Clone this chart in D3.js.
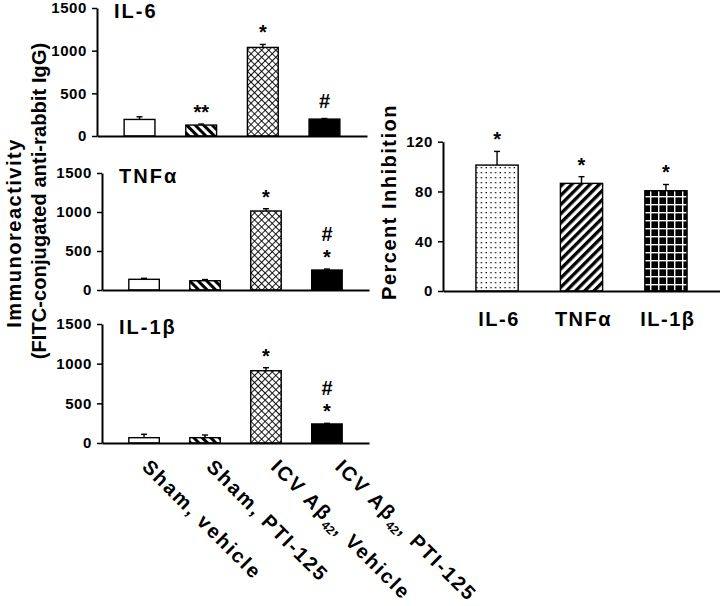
<!DOCTYPE html>
<html><head><meta charset="utf-8">
<script src="https://cdn.jsdelivr.net/npm/d3@7"></script>
<style>
body{margin:0;background:#fff;}
svg{display:block;}
text{font-family:"Liberation Sans",Arial,sans-serif;font-weight:bold;fill:#000;}
</style></head><body>
<svg id="chart" width="720" height="606"></svg>
<script>
// ---- data ----
const groups = ["Sham, vehicle", "Sham, PTI-125", "ICV Aβ42, Vehicle", "ICV Aβ42, PTI-125"];
const cytokines = ["IL-6", "TNFα", "IL-1β"];
const il6Values = [194, 128, 1038, 198];
const il6Errors = [31, 12, 35, 7];
const il6Marks = [[], ["**"], ["*"], ["#"]];
const tnfValues = [137, 119, 1013, 256];
const tnfErrors = [13, 15, 29, 13];
const tnfMarks = [[], [], ["*"], ["#", "*"]];
const il1bValues = [67, 67, 911, 240];
const il1bErrors = [43, 34, 38, 8];
const il1bMarks = [[], [], ["*"], ["#", "*"]];
const inhibitionValues = [101.2, 86.5, 80.6];
const inhibitionErrors = [11, 5.4, 5];
const inhibitionMarks = [["*"], ["*"], ["*"]];
const leftTicks = [0, 500, 1000, 1500];
const rightTicks = [0, 40, 80, 120];
const leftTitleLines = ["Immunoreactivity", "(FITC-conjugated anti-rabbit IgG)"];
const rightTitle = "Percent Inhibition";

const svg = d3.select("#chart");
const defs = svg.append("defs");

// patterns
function stripes(id, angle, size, w) {
  const p = defs.append("pattern").attr("id", id).attr("patternUnits", "userSpaceOnUse")
    .attr("width", size).attr("height", size).attr("patternTransform", `rotate(${angle})`);
  p.append("rect").attr("width", size).attr("height", size).attr("fill", "#fff");
  p.append("rect").attr("width", w).attr("height", size).attr("fill", "#000");
}
stripes("stripeBack", -45, 6, 3);
stripes("stripeFwd", 45, 6.5, 3.3);
(function () {
  const p = defs.append("pattern").attr("id", "cross").attr("patternUnits", "userSpaceOnUse")
    .attr("width", 5).attr("height", 5).attr("patternTransform", "rotate(45)");
  p.append("rect").attr("width", 5).attr("height", 5).attr("fill", "#fff");
  p.append("rect").attr("width", 5).attr("height", 0.9).attr("fill", "#000");
  p.append("rect").attr("width", 0.9).attr("height", 5).attr("fill", "#000");
})();
(function () {
  const p = defs.append("pattern").attr("id", "dots").attr("patternUnits", "userSpaceOnUse")
    .attr("width", 4.7).attr("height", 5);
  p.append("rect").attr("width", 4.7).attr("height", 5).attr("fill", "#fff");
  p.append("rect").attr("x", 1.5).attr("y", 2).attr("width", 1.3).attr("height", 1.3).attr("fill", "#000");
})();
(function () {
  const p = defs.append("pattern").attr("id", "grid").attr("patternUnits", "userSpaceOnUse")
    .attr("width", 8).attr("height", 8).attr("x", 2).attr("y", 4);
  p.append("rect").attr("width", 8).attr("height", 8).attr("fill", "#000");
  p.append("rect").attr("width", 8).attr("height", 1.4).attr("fill", "#fff");
  p.append("rect").attr("width", 1.4).attr("height", 8).attr("fill", "#fff");
})();

const groupFills = ["#fff", "url(#stripeBack)", "url(#cross)", "#000"];
const cytokineFills = ["url(#dots)", "url(#stripeFwd)", "url(#grid)"];

function drawPanel(cfg) {
  const g = svg.append("g");
  const x = d3.scaleBand().domain(cfg.cats).range([cfg.x0, cfg.x1]).paddingInner(0.5).paddingOuter(cfg.outer);
  const y = d3.scaleLinear().domain(cfg.domain).range([cfg.yb, cfg.yt]);

  // bars
  g.selectAll("rect.bar").data(cfg.cats).enter().append("rect")
    .attr("x", d => x(d)).attr("width", x.bandwidth())
    .attr("y", (d, i) => y(cfg.values[i]))
    .attr("height", (d, i) => y(0) - y(cfg.values[i]))
    .attr("fill", (d, i) => cfg.fills[i]).attr("stroke", "#000").attr("stroke-width", 1.4);

  // error bars
  const eb = g.selectAll("g.err").data(cfg.cats).enter().append("g");
  eb.append("line")
    .attr("x1", d => x(d) + x.bandwidth() / 2).attr("x2", d => x(d) + x.bandwidth() / 2)
    .attr("y1", (d, i) => y(cfg.values[i])).attr("y2", (d, i) => y(cfg.values[i] + cfg.errors[i]))
    .attr("stroke", "#000").attr("stroke-width", 1.4);
  eb.append("line")
    .attr("x1", d => x(d) + x.bandwidth() / 2 - 3).attr("x2", d => x(d) + x.bandwidth() / 2 + 3)
    .attr("y1", (d, i) => y(cfg.values[i] + cfg.errors[i])).attr("y2", (d, i) => y(cfg.values[i] + cfg.errors[i]))
    .attr("stroke", "#000").attr("stroke-width", 1.4);

  // significance marks
  cfg.cats.forEach((c, i) => {
    const lines = cfg.marks[i];
    const top = y(cfg.values[i] + cfg.errors[i]);
    lines.forEach((t, k) => {
      const fromBottom = lines.length - 1 - k;
      const isHash = t === "#";
      g.append("text").attr("x", x(c) + x.bandwidth() / 2)
        .attr("y", top - (isHash && fromBottom === 0 ? 11 : 5) - fromBottom * 23)
        .attr("text-anchor", "middle").attr("font-size", 20).text(t);
    });
  });

  // axes
  const ya = g.append("g").attr("transform", `translate(${cfg.x0},0)`)
    .call(d3.axisLeft(y).tickValues(cfg.ticks).tickSize(5).tickSizeOuter(0).tickPadding(5).tickFormat(d3.format("d")));
  ya.attr("font-family", null).attr("font-size", null);
  ya.selectAll("text").attr("font-size", 15).attr("letter-spacing", 0.6);
  ya.select(".domain").attr("stroke-width", 2);
  ya.selectAll(".tick line").attr("stroke-width", 1.5);

  const xa = g.append("g").attr("transform", `translate(0,${cfg.yb})`)
    .call(d3.axisBottom(x).tickSize(0).tickSizeOuter(0).tickFormat(""));
  xa.select(".domain").attr("stroke-width", 2);

  if (cfg.title) {
    g.append("text").attr("x", cfg.x0 + 17).attr("y", cfg.yt + 10)
      .attr("font-size", 20).attr("letter-spacing", 2).text(cfg.title);
  }
  return { x, y };
}

const p1 = drawPanel({ cats: groups, values: il6Values, errors: il6Errors, marks: il6Marks,
  x0: 97, x1: 367, outer: 0.44, yb: 136, yt: 8, domain: [0, 1500], ticks: leftTicks,
  fills: groupFills, title: cytokines[0] });
const p2 = drawPanel({ cats: groups, values: tnfValues, errors: tnfErrors, marks: tnfMarks,
  x0: 102, x1: 369, outer: 0.44, yb: 290, yt: 173, domain: [0, 1500], ticks: leftTicks,
  fills: groupFills, title: cytokines[1] });
const p3 = drawPanel({ cats: groups, values: il1bValues, errors: il1bErrors, marks: il1bMarks,
  x0: 102, x1: 369, outer: 0.44, yb: 443, yt: 324, domain: [0, 1500], ticks: leftTicks,
  fills: groupFills, title: cytokines[2] });
const p4 = drawPanel({ cats: cytokines, values: inhibitionValues, errors: inhibitionErrors, marks: inhibitionMarks,
  x0: 443, x1: 720, outer: 0.39, yb: 291, yt: 141.7, domain: [0, 120], ticks: rightTicks,
  fills: cytokineFills, title: null });

// right x labels
svg.selectAll("text.rx").data(cytokines).enter().append("text")
  .attr("x", d => p4.x(d) + p4.x.bandwidth() / 2 + 2).attr("y", 326)
  .attr("text-anchor", "middle").attr("font-size", 20).attr("letter-spacing", 1.5).text(d => d);

// right y title
svg.append("text").attr("transform", "translate(396,202) rotate(-90)")
  .attr("text-anchor", "middle").attr("font-size", 20).attr("letter-spacing", 1.5).text(rightTitle);

// left y title (two lines)
svg.append("text").attr("transform", "translate(21,233) rotate(-90)")
  .attr("text-anchor", "middle").attr("font-size", 20).attr("letter-spacing", 1.5).text(leftTitleLines[0]);
svg.append("text").attr("transform", "translate(46,201) rotate(-90)")
  .attr("text-anchor", "middle").attr("font-size", 20).attr("letter-spacing", 0.1).text(leftTitleLines[1]);

// rotated group labels
const lx = d3.scalePoint().domain(groups).range([141, 334]);
groups.forEach(gname => {
  const t = svg.append("text").attr("transform", `translate(${lx(gname)},468) rotate(45)`)
    .attr("font-size", 20).attr("letter-spacing", 2);
  const parts = gname.split("42");
  if (parts.length === 1) {
    t.text(gname);
  } else {
    t.append("tspan").text(parts[0]);
    t.append("tspan").attr("font-size", 12).attr("dy", 5).attr("letter-spacing", 0).text("42");
    t.append("tspan").attr("dy", -5).text(parts[1]);
  }
});
</script>
</body></html>
